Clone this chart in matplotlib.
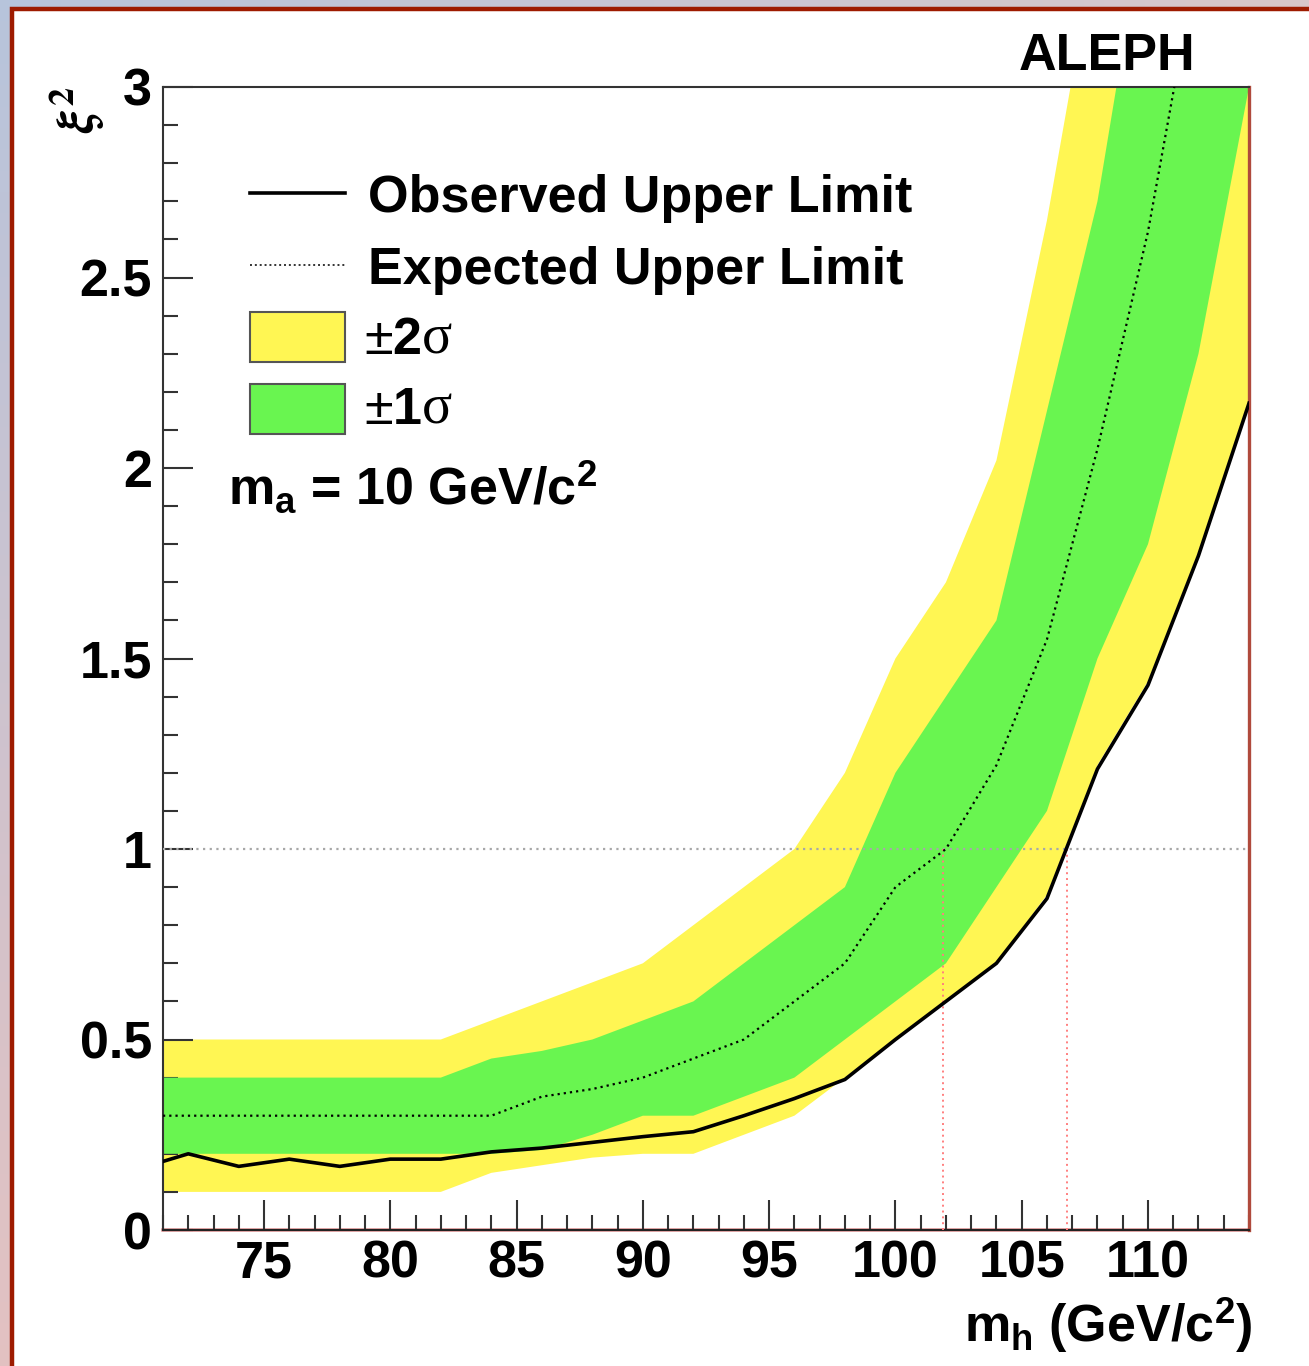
import numpy as np
import matplotlib
matplotlib.use("Agg")
import matplotlib.pyplot as plt
from matplotlib.patches import Rectangle
from matplotlib.lines import Line2D
from matplotlib.offsetbox import TextArea, HPacker, AnnotationBbox
from matplotlib.ticker import MultipleLocator, FixedLocator, FixedFormatter

plt.rcParams['font.family'] = ['Liberation Sans', 'DejaVu Sans']
plt.rcParams['font.weight'] = 'bold'
plt.rcParams['mathtext.fontset'] = 'custom'
plt.rcParams['mathtext.rm'] = 'Liberation Sans:bold'
plt.rcParams['mathtext.it'] = 'Liberation Sans:bold'
plt.rcParams['mathtext.bf'] = 'Liberation Sans:bold'

# ---------------- data ----------------
mass = [71, 72, 74, 76, 78, 80, 82, 84, 86, 88, 90, 92, 94, 96, 98, 100,
        102, 104, 106, 108, 110, 112, 114]
observed = [0.18, 0.20, 0.167, 0.186, 0.167, 0.186, 0.186, 0.205, 0.215, 0.23,
            0.245, 0.258, 0.30, 0.345, 0.395, 0.50, 0.60, 0.70, 0.87, 1.21,
            1.43, 1.77, 2.17]
expected = [0.30, 0.30, 0.30, 0.30, 0.30, 0.30, 0.30, 0.30, 0.35, 0.37,
            0.40, 0.45, 0.50, 0.60, 0.70, 0.90, 1.00, 1.22, 1.55, 2.05,
            2.62, 3.35, 4.10]
sigma1_lo = [0.20, 0.20, 0.20, 0.20, 0.20, 0.20, 0.20, 0.20, 0.21, 0.25,
             0.30, 0.30, 0.35, 0.40, 0.50, 0.60, 0.70, 0.90, 1.10, 1.50,
             1.80, 2.30, 3.00]
sigma1_hi = [0.40, 0.40, 0.40, 0.40, 0.40, 0.40, 0.40, 0.45, 0.47, 0.50,
             0.55, 0.60, 0.70, 0.80, 0.90, 1.20, 1.40, 1.60, 2.15, 2.70,
             3.50, 4.00, 4.50]
sigma2_lo = [0.10, 0.10, 0.10, 0.10, 0.10, 0.10, 0.10, 0.15, 0.17, 0.19,
             0.20, 0.20, 0.25, 0.30, 0.40, 0.50, 0.60, 0.70, 0.88, 1.22,
             1.44, 1.78, 2.18]
sigma2_hi = [0.50, 0.50, 0.50, 0.50, 0.50, 0.50, 0.50, 0.55, 0.60, 0.65,
             0.70, 0.80, 0.90, 1.00, 1.20, 1.50, 1.70, 2.02, 2.65, 3.40,
             4.00, 4.50, 5.00]
limit_expected = 101.9
limit_observed = 106.8
reference_level = 1.0

x_major = [75, 80, 85, 90, 95, 100, 105, 110]
x_labels = ['75', '80', '85', '90', '95', '100', '105', '110']
y_major = [0, 0.5, 1, 1.5, 2, 2.5, 3]
y_labels = ['0', '0.5', '1', '1.5', '2', '2.5', '3']

legend_labels = ['Observed Upper Limit', 'Expected Upper Limit']
YELLOW = '#fff653'
GREEN = '#69f550'

# ---------------- figure ----------------
W, H = 1309, 1366
fig = plt.figure(figsize=(W / 100, H / 100), dpi=100)

# background layer (pixel coordinates)
bg = fig.add_axes([0, 0, 1, 1], zorder=0)
bg.set_xlim(0, W)
bg.set_ylim(H, 0)
bg.axis('off')
tl = np.array([0.72, 0.77, 0.86])
tr = np.array([0.85, 0.78, 0.79])
bl = np.array([0.89, 0.76, 0.76])
br = np.array([0.91, 0.80, 0.80])
u = np.linspace(0, 1, 64)[None, :, None]
v = np.linspace(0, 1, 64)[:, None, None]
grad = (1 - u) * (1 - v) * tl + u * (1 - v) * tr + (1 - u) * v * bl + u * v * br
bg.imshow(grad, extent=[0, W, H, 0], aspect='auto', zorder=0)
bg.add_patch(Rectangle((12, 8.5), W + 50, H + 50, facecolor='white',
                       edgecolor='#9e1b00', lw=3.2, zorder=1, clip_on=False))

# main axes
L, R, T, B = 163, 1249, 87, 1230
ax = fig.add_axes([L / W, 1 - B / H, (R - L) / W, (B - T) / H], zorder=1)
ax.set_facecolor('none')
ax.set_xlim(71, 114)
ax.set_ylim(0, 3)

ax.fill_between(mass, sigma2_lo, sigma2_hi, color=YELLOW, lw=0, zorder=1)
ax.fill_between(mass, sigma1_lo, sigma1_hi, color=GREEN, lw=0, zorder=2)
ax.axhline(reference_level, color='#a8a8a8', lw=1.6, ls=(0, (1, 2)), zorder=3)
ax.plot([limit_expected, limit_expected], [0, reference_level],
        color='#ff7f7f', lw=1.4, ls=(0, (1, 2)), zorder=3)
ax.plot([limit_observed, limit_observed], [0, reference_level],
        color='#ff7f7f', lw=1.4, ls=(0, (1, 2)), zorder=3)
ax.plot(mass, expected, color='black', lw=1.6, ls=(0, (1, 1.8)), zorder=4)
ax.plot(mass, observed, color='black', lw=2.6, zorder=5,
        solid_joinstyle='round')
ax.axhline(0, color='#f3a3a3', lw=2.6, zorder=0.5, clip_on=False)

ax.xaxis.set_major_locator(FixedLocator(x_major))
ax.xaxis.set_major_formatter(FixedFormatter(x_labels))
ax.xaxis.set_minor_locator(MultipleLocator(1))
ax.yaxis.set_major_locator(FixedLocator(y_major))
ax.yaxis.set_major_formatter(FixedFormatter(y_labels))
ax.yaxis.set_minor_locator(MultipleLocator(0.1))
ax.tick_params(which='both', direction='in', top=False, right=False,
               color='#333333', width=1.5, labelsize=37.5)
ax.tick_params(which='major', length=21.5)
ax.tick_params(which='minor', length=10.8)
ax.tick_params(axis='x', pad=7)
ax.tick_params(axis='y', pad=8)
for lab in ax.get_xticklabels() + ax.get_yticklabels():
    lab.set_fontweight('bold')

for s in ['left', 'top']:
    ax.spines[s].set_color('#333333')
    ax.spines[s].set_linewidth(1.5)
ax.spines['bottom'].set_color('#222222')
ax.spines['bottom'].set_linewidth(1.6)
ax.spines['right'].set_color('#b04a3c')
ax.spines['right'].set_linewidth(2.4)

# overlay layer for texts and legend
ov = fig.add_axes([0, 0, 1, 1], zorder=2)
ov.set_xlim(0, W)
ov.set_ylim(H, 0)
ov.axis('off')
ov.patch.set_alpha(0)

FS = 37.5
ov.add_line(Line2D([250, 345], [193, 193], color='black', lw=2.6))
ov.text(368, 212, legend_labels[0], fontsize=FS, fontweight='bold',
        va='baseline', ha='left')
ov.add_line(Line2D([250, 345], [265, 265], color='#333333', lw=1.4,
                   ls=(0, (1, 1.5))))
ov.text(368, 284, legend_labels[1], fontsize=FS, fontweight='bold',
        va='baseline', ha='left')
ov.add_patch(Rectangle((250, 312), 95, 50, facecolor=YELLOW,
                       edgecolor='#555555', lw=1.5))
ov.add_patch(Rectangle((250, 384), 95, 50, facecolor=GREEN,
                       edgecolor='#555555', lw=1.5))


def sigma_label(n, y):
    parts = [
        TextArea('\u00b1', textprops=dict(fontsize=FS, fontweight='normal',
                                          family='Liberation Sans')),
        TextArea(n, textprops=dict(fontsize=FS, fontweight='bold',
                                   family='Liberation Sans')),
        TextArea('\u03c3', textprops=dict(fontsize=FS + 3, fontweight='normal',
                                          family='Liberation Serif')),
    ]
    box = HPacker(children=parts, pad=0, sep=0, align='baseline')
    ab = AnnotationBbox(box, (364, y), xycoords='data', box_alignment=(0, 0.5),
                        frameon=False, pad=0)
    ov.add_artist(ab)


sigma_label('2', 340)
sigma_label('1', 410)

ov.text(228, 505, r'$m_a$ = 10 GeV/c$^2$', fontsize=FS, fontweight='bold',
        va='baseline', ha='left')
ov.text(1195, 70, 'ALEPH', fontsize=FS, fontweight='bold', va='baseline',
        ha='right')
ov.text(1252, 1342, r'$m_h$ (GeV/c$^2$)', fontsize=FS, fontweight='bold',
        va='baseline', ha='right')
ov.text(78, 86, r'$\xi^2$', fontsize=37, rotation=90, va='top', ha='center',
        math_fontfamily='stix')

fig.savefig('out.png', dpi=100)
